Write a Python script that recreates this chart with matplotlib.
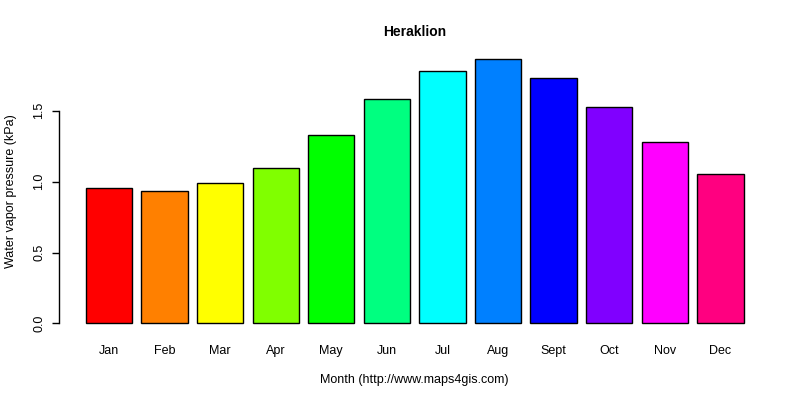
import numpy as np
import matplotlib.pyplot as plt

plt.rcParams['font.family'] = ['Liberation Sans', 'DejaVu Sans']

months = ["Jan", "Feb", "Mar", "Apr", "May", "Jun", "Jul", "Aug", "Sept", "Oct", "Nov", "Dec"]
pressure = [0.953, 0.931, 0.988, 1.094, 1.327, 1.581, 1.778, 1.863, 1.729, 1.524, 1.277, 1.051]
colors = ["#FF0000", "#FF8000", "#FFFF00", "#80FF00", "#00FF00", "#00FF80",
          "#00FFFF", "#0080FF", "#0000FF", "#8000FF", "#FF00FF", "#FF0080"]

fig = plt.figure(figsize=(8, 4), dpi=100)
ax = fig.add_axes([0.0743, 0.165, 0.888, 0.713])

# R barplot layout: width 1, space 0.2
x = 0.7 + 1.2 * np.arange(len(months))
ax.bar(x, pressure, width=1.0, color=colors, edgecolor="black", linewidth=1.0)

x_lo, x_hi = 0.2, 0.2 + 1.2 * len(months) - 0.2
pad = (x_hi - x_lo) * 0.04
ax.set_xlim(x_lo - pad, x_hi + pad)
ymax = max(pressure)
ax.set_ylim(-0.04 * ymax, ymax * 1.04)

for s in ["top", "right", "bottom"]:
    ax.spines[s].set_visible(False)
ax.spines["left"].set_bounds(0, 1.5)
ax.spines["left"].set_linewidth(1.0)

ax.set_xticks(x)
ax.set_xticklabels(months, fontsize=9)
ax.tick_params(axis="x", length=0, pad=8)

ax.set_yticks([0, 0.5, 1.0, 1.5])
ax.set_yticklabels(["0.0", "0.5", "1.0", "1.5"], fontsize=9, rotation=90, va="center")
ax.tick_params(axis="y", length=5, width=1.0, pad=5)

ax.set_xlabel("Month (http://www.maps4gis.com)", fontsize=9, labelpad=12)
ax.set_ylabel("Water vapor pressure (kPa)", fontsize=9, labelpad=12)
ax.set_title("Heraklion", fontsize=10, fontweight="bold", pad=9)

fig.savefig("out.png", dpi=100)
